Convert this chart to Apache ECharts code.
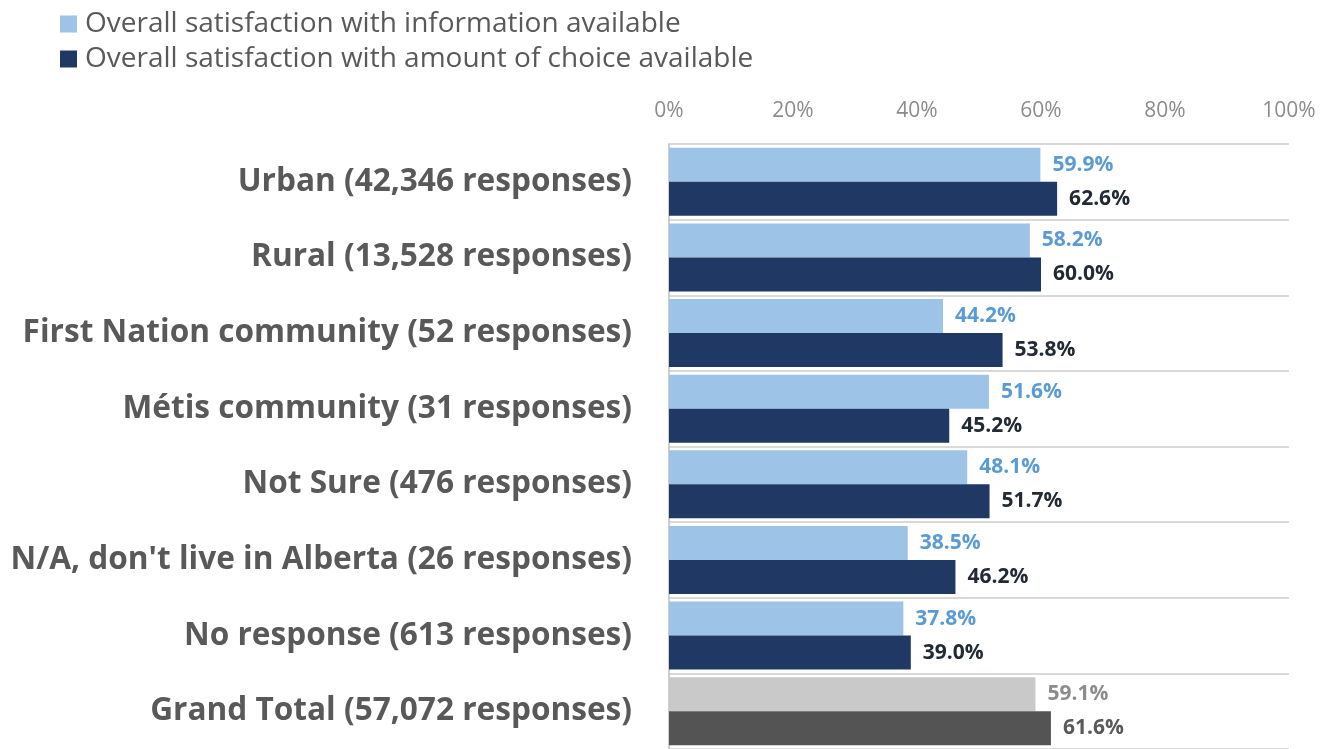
<!DOCTYPE html>
<html>
<head>
<meta charset="utf-8">
<script src="https://cdn.jsdelivr.net/npm/echarts@6/dist/echarts.min.js"></script>
<style>
  html, body { margin: 0; padding: 0; background: #ffffff; }
  #chart { width: 1331px; height: 749px; }
</style>
</head>
<body>
<div id="chart"></div>
<script>
// Survey segments (top to bottom as shown)
const categories = [
  'Urban (42,346 responses)',
  'Rural (13,528 responses)',
  'First Nation community (52 responses)',
  'Métis community (31 responses)',
  'Not Sure (476 responses)',
  "N/A, don't live in Alberta (26 responses)",
  'No response (613 responses)',
  'Grand Total (57,072 responses)'
];
const informationValues = [59.9, 58.2, 44.2, 51.6, 48.1, 38.5, 37.8, 59.1];
const choiceValues = [62.6, 60.0, 53.8, 45.2, 51.7, 46.2, 39.0, 61.6];
const seriesNames = [
  'Overall satisfaction with information available',
  'Overall satisfaction with amount of choice available'
];
const axisTicks = [0, 20, 40, 60, 80, 100];

const FONT = '"Open Sans", "DejaVu Sans", sans-serif';
const totalIndex = categories.length - 1;

// The grand-total row is drawn in greys instead of the series colours
function buildData(values, totalColor, totalLabelColor) {
  return values.map((v, i) => {
    if (i !== totalIndex) return v;
    return {
      value: v,
      itemStyle: { color: totalColor },
      label: { color: totalLabelColor }
    };
  });
}

const chart = echarts.init(document.getElementById('chart'), null, { renderer: 'canvas' });
chart.setOption({
  animation: false,
  backgroundColor: '#ffffff',
  legend: {
    orient: 'vertical',
    left: 55,
    top: 5,
    itemWidth: 17,
    itemHeight: 17,
    itemGap: 7,
    icon: 'rect',
    textStyle: { fontFamily: FONT, fontSize: 28, color: '#595959', padding: [0, 0, 0, 3] },
    data: seriesNames
  },
  grid: {
    left: 669,
    right: 42,
    top: 144,
    bottom: -7,
    containLabel: false
  },
  xAxis: {
    type: 'value',
    position: 'top',
    min: 0,
    max: 100,
    interval: 20,
    axisLine: { show: false },
    axisTick: { show: false },
    splitLine: { show: false },
    axisLabel: {
      margin: 22,
      fontFamily: FONT,
      fontSize: 21,
      color: '#8c8c8c',
      formatter: v => (axisTicks.includes(v) ? v + '%' : '')
    }
  },
  yAxis: {
    type: 'category',
    inverse: true,
    data: categories,
    axisLine: { show: true, lineStyle: { color: '#bfbfbf', width: 1.5 } },
    axisTick: { show: false },
    splitLine: { show: true, lineStyle: { color: '#d9d9d9', width: 2 } },
    axisLabel: {
      margin: 37,
      fontFamily: FONT,
      fontSize: 31.6,
      fontWeight: 'bold',
      color: '#595959'
    }
  },
  series: [
    {
      name: seriesNames[0],
      type: 'bar',
      barGap: '0%',
      barCategoryGap: '10%',
      itemStyle: { color: '#9dc3e6' },
      label: {
        show: true,
        position: 'right',
        distance: 12,
        fontFamily: FONT,
        fontSize: 21,
        fontWeight: 'bold',
        color: '#5b9bd5',
        formatter: p => p.value.toFixed(1) + '%'
      },
      data: buildData(informationValues, '#c9c9c9', '#8c8c8c')
    },
    {
      name: seriesNames[1],
      type: 'bar',
      barGap: '0%',
      barCategoryGap: '10%',
      itemStyle: { color: '#203864' },
      label: {
        show: true,
        position: 'right',
        distance: 12,
        fontFamily: FONT,
        fontSize: 21,
        fontWeight: 'bold',
        color: '#222a35',
        formatter: p => p.value.toFixed(1) + '%'
      },
      data: buildData(choiceValues, '#545454', '#595959')
    }
  ]
});
</script>
</body>
</html>
